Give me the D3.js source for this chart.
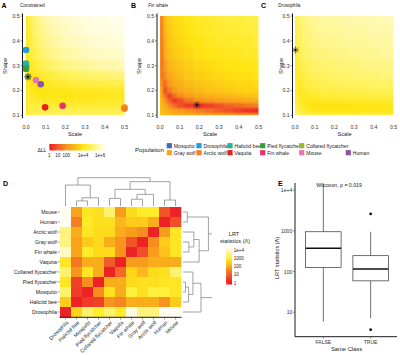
<!DOCTYPE html>
<html><head><meta charset="utf-8">
<script src="https://cdn.jsdelivr.net/npm/d3@7"></script>
<style>
body{margin:0;background:#fff;}
svg{display:block;font-family:"Liberation Sans",Arial,Helvetica,sans-serif;}
</style></head><body>
<svg id="c" width="400" height="355"></svg>
<script>
// ================= DATA =================
// Panels A-C : log10(ΔLL) on a Scale x Shape grid (rows = shapeGrid, cols = scaleGrid)
const scaleGrid = [0, 0.01, 0.025, 0.05, 0.075, 0.1, 0.15, 0.2, 0.25, 0.3, 0.35, 0.4, 0.45, 0.5];
const shapeGrid = [0.1, 0.12, 0.14, 0.16, 0.18, 0.2, 0.23, 0.26, 0.3, 0.35, 0.4, 0.45, 0.5];
const logDLLConstrained = [
 [4.2,4.6,4.8,4.9,5.0,5.0,5.1,5.1,5.1,5.1,5.1,5.1,5.1,5.1],
 [4.2,4.5,4.7,4.8,4.8,4.8,4.8,4.8,4.8,4.8,4.8,4.8,4.8,4.8],
 [4.2,4.5,4.6,4.6,4.6,4.5,4.5,4.5,4.5,4.5,4.5,4.5,4.5,4.5],
 [4.2,4.4,4.5,4.4,4.3,4.2,4.2,4.2,4.2,4.2,4.3,4.3,4.3,4.3],
 [4.2,4.4,4.4,4.2,4.0,4.0,4.0,4.0,4.1,4.1,4.1,4.1,4.2,4.2],
 [4.2,4.3,4.2,4.0,4.0,4.0,4.1,4.1,4.2,4.2,4.3,4.3,4.3,4.3],
 [4.2,4.2,4.0,4.0,4.1,4.2,4.4,4.5,4.6,4.6,4.7,4.7,4.8,4.8],
 [4.2,4.1,4.0,4.2,4.4,4.5,4.7,4.9,5.0,5.1,5.2,5.2,5.3,5.3],
 [4.2,4.0,4.2,4.5,4.8,5.0,5.2,5.4,5.5,5.6,5.7,5.8,5.8,5.9],
 [4.2,4.1,4.5,4.8,5.1,5.3,5.5,5.7,5.8,5.9,6.0,6.1,6.1,6.2],
 [4.2,4.3,4.7,5.0,5.3,5.5,5.7,5.9,6.0,6.1,6.2,6.3,6.3,6.4],
 [4.2,4.4,4.8,5.2,5.4,5.6,5.9,6.0,6.2,6.3,6.4,6.4,6.5,6.5],
 [4.2,4.4,4.9,5.3,5.6,5.8,6.0,6.2,6.3,6.4,6.5,6.5,6.6,6.6]
];
const logDLLFinWhale = [
 [3.2,3.2,3.1,3.0,2.9,2.8,2.7,2.6,2.5,2.4,2.3,2.2,2.2,2.1],
 [3.2,3.1,2.9,2.6,2.4,2.2,1.9,1.6,1.4,1.1,0.8,0.5,0.3,0.2],
 [3.2,3.0,2.6,1.9,1.3,0.8,0.4,0.2,0.5,0.8,1.1,1.3,1.5,1.6],
 [3.1,2.8,2.1,1.1,0.4,0.8,1.5,1.9,2.1,2.3,2.4,2.5,2.6,2.7],
 [3.0,2.6,1.4,0.6,1.4,1.9,2.3,2.6,2.8,2.9,3.0,3.1,3.2,3.3],
 [2.9,2.3,0.8,1.6,2.2,2.5,2.8,3.0,3.2,3.3,3.4,3.5,3.6,3.6],
 [2.8,1.7,1.3,2.2,2.6,2.8,3.1,3.3,3.4,3.5,3.6,3.7,3.7,3.8],
 [2.7,1.2,1.9,2.6,2.9,3.1,3.3,3.5,3.6,3.7,3.8,3.9,3.9,4.0],
 [2.6,1.1,2.3,2.9,3.1,3.3,3.5,3.7,3.8,3.9,4.0,4.0,4.1,4.1],
 [2.5,1.2,2.6,3.1,3.4,3.5,3.7,3.9,4.0,4.1,4.2,4.2,4.3,4.3],
 [2.4,1.3,2.8,3.3,3.5,3.7,3.9,4.0,4.2,4.3,4.3,4.4,4.4,4.5],
 [2.4,1.4,3.0,3.4,3.7,3.8,4.0,4.2,4.3,4.4,4.5,4.5,4.6,4.6],
 [2.3,1.5,3.1,3.5,3.8,3.9,4.1,4.3,4.4,4.5,4.6,4.6,4.7,4.7]
];
const logDLLDrosophila = [
 [4.6,5.0,5.0,4.9,4.8,4.8,4.8,4.8,4.8,4.8,4.8,4.8,4.8,4.8],
 [4.6,4.9,4.7,4.4,4.2,4.1,4.0,4.0,4.0,4.0,4.1,4.1,4.1,4.1],
 [4.6,4.8,4.5,4.2,4.0,3.9,3.9,3.9,3.9,4.0,4.0,4.0,4.1,4.1],
 [4.6,4.7,4.3,4.1,4.1,4.1,4.2,4.2,4.3,4.3,4.3,4.4,4.4,4.4],
 [4.6,4.6,4.2,4.2,4.3,4.4,4.5,4.5,4.6,4.6,4.6,4.7,4.7,4.7],
 [4.6,4.5,4.2,4.4,4.5,4.6,4.7,4.7,4.8,4.8,4.8,4.9,4.9,4.9],
 [4.6,4.4,4.3,4.6,4.7,4.8,4.9,4.9,5.0,5.0,5.0,5.1,5.1,5.1],
 [4.5,4.3,4.5,4.7,4.9,5.0,5.0,5.1,5.1,5.2,5.2,5.2,5.3,5.3],
 [4.5,4.4,4.7,4.9,5.0,5.1,5.2,5.2,5.3,5.3,5.4,5.4,5.4,5.4],
 [4.4,4.6,4.9,5.1,5.2,5.3,5.3,5.4,5.4,5.5,5.5,5.5,5.6,5.6],
 [4.5,4.8,5.0,5.2,5.3,5.4,5.5,5.5,5.6,5.6,5.6,5.7,5.7,5.7],
 [4.6,4.9,5.1,5.3,5.4,5.5,5.6,5.6,5.7,5.7,5.7,5.8,5.8,5.8],
 [4.6,5.0,5.2,5.4,5.5,5.6,5.7,5.7,5.8,5.8,5.8,5.9,5.9,5.9]
];
// maximum-likelihood estimates (scale, shape)
const starConstrained = [0.01, 0.255];
const starFinWhale = [0.187, 0.142];
const starDrosophila = [0.002, 0.363];
const axisTicks = [0, 0.1, 0.2, 0.3, 0.4, 0.5];
const shapeTicks = [0.1, 0.2, 0.3, 0.4, 0.5];

// Populations (panel A points)
const populations = ["Mosquito","Drosophila","Halictid bee","Pied flycatcher","Collared flycatcher","Gray wolf","Arctic wolf","Vaquita","Fin whale","Mouse","Human"];
const popColors  = ["#3d6db4","#1f9fd3","#21b3a4","#3a9d42","#9cb82c","#f8a51c","#f37f21","#e3211d","#e9336b","#e874b0","#8d55a1"];
const popScale   = [0.0, 0.0, 0.0, 0.0, 0.01, 0.5, 0.5, 0.097, 0.186, 0.05, 0.075];
const popShape   = [0.298, 0.363, 0.308, 0.287, 0.255, 0.132, 0.127, 0.132, 0.138, 0.242, 0.225];
const dllLegendTicks = [1, 10, 100, 1e4, 1e6];
const dllLegendLabels = ["1","10","100","1e+4","1e+6"];

// Panel D : pairwise LRT statistics, log10 values
const heatRows = ["Mouse","Human","Arctic wolf","Gray wolf","Fin whale","Vaquita","Collared flycatcher","Pied flycatcher","Mosquito","Halictid bee","Drosophila"];
const heatCols = ["Drosophila","Halictid bee","Mosquito","Pied flycatcher","Collared flycatcher","Vaquita","Fin whale","Gray wolf","Arctic wolf","Human","Mouse"];
const lrtLog10 = [
 [4.3,2.0,2.8,2.7,3.4,1.9,2.6,2.9,2.9,0.9,0.1],
 [4.3,1.5,2.9,2.7,2.7,2.2,2.4,2.4,2.1,0.1,0.8],
 [3.5,2.1,2.8,2.6,2.6,2.1,1.9,1.7,0.1,1.9,2.8],
 [3.5,2.0,2.4,2.6,2.1,1.8,0.9,0.1,1.7,2.4,2.8],
 [4.0,2.0,2.9,2.6,2.6,1.8,0.1,0.8,1.9,2.3,2.8],
 [2.8,1.4,2.1,2.1,1.0,0.1,1.9,1.9,2.1,2.1,2.1],
 [3.4,1.8,2.8,2.1,0.1,1.2,2.5,2.2,2.6,2.7,3.4],
 [2.8,0.6,1.7,0.1,2.1,2.1,2.6,2.7,2.7,2.8,2.8],
 [3.4,0.5,0.1,1.7,2.7,2.1,3.1,2.7,3.1,3.1,2.8],
 [2.4,0.1,0.5,0.6,1.8,1.6,2.1,2.1,2.1,1.8,2.4],
 [0.1,2.5,3.4,3.0,3.4,2.9,4.2,3.5,3.5,4.3,4.3]
];
// dendrogram merges: [child, child, height]; "#k" refers to merge k
const colMerges = [
 ["Halictid bee","Mosquito",0.18],["#0","Pied flycatcher",0.29],["Drosophila","#1",0.74],
 ["Collared flycatcher","Vaquita",0.27],["Fin whale","Gray wolf",0.24],["#4","Arctic wolf",0.41],
 ["#3","#5",0.59],["Human","Mouse",0.21],["#6","#7",0.86],["#2","#8",1.0]
];
const rowMerges = [
 ["Mouse","Human",0.14],["Gray wolf","Fin whale",0.19],["Arctic wolf","#1",0.35],
 ["#2","Vaquita",0.52],["#0","#3",0.82],["Pied flycatcher","Mosquito",0.08],
 ["#5","Halictid bee",0.18],["Collared flycatcher","#6",0.32],["#7","Drosophila",0.58],["#4","#8",1.0]
];
const lrtLegendTicks = [1, 10, 100, 1000, 1e4];
const lrtLegendLabels = ["1","10","100","1000","1e+4"];

// Panel E : boxplot of LRT statistics by "Same Class"
const boxGroups = ["FALSE","TRUE"];
const boxLow  = [5.9, 7.2];
const boxQ1   = [125, 59];
const boxMed  = [372, 115];
const boxQ3   = [950, 245];
const boxHigh = [14500, 950];
const boxOutliers = [[], [2600, 3.7]];
const eTicks = [10, 100, 1000, 1e4];
const eTickLabels = ["10","100","1000","1e+4"];

// ================= DRAWING =================
const svg = d3.select("#c");
const TXT = "#1a1a1a";
const defs = svg.append("defs");

const dllColor = d3.scaleLinear()
  .domain([0,1,2,3,4,5,6,6.7])
  .range(["#ed1c24","#f15a29","#f7941d","#fbb817","#ffe512","#fff25c","#fffac0","#fffff4"])
  .clamp(true);
const lrtColor = d3.scaleLinear()
  .domain([0,1,2,2.5,3,3.6,4.3])
  .range(["#ed1c24","#f15a29","#f9a31b","#fed51a","#fff02a","#fcf38f","#fffdf0"])
  .clamp(true);

const blur = defs.append("filter").attr("id","soft")
  .attr("x","-10%").attr("y","-10%").attr("width","120%").attr("height","120%")
  .attr("color-interpolation-filters","sRGB");
blur.append("feGaussianBlur").attr("stdDeviation",1.1);

function cellLo(arr,i,min,ext){ return i===0 ? min-ext : (arr[i-1]+arr[i])/2; }
function cellHi(arr,i,max,ext){ return i===arr.length-1 ? max+ext : (arr[i]+arr[i+1])/2; }

const yS = d3.scaleLinear().domain([0.1,0.5]).range([115.3,16]);
const panels = [
 {letter:"A", title:"Constrained", data:logDLLConstrained, star:starConstrained, x0:26, x1:124.5, axisX:22.5, shapeX:4.5, letterX:1.5, titleX:20, scaleX:75, points:true},
 {letter:"B", title:"Fin whale", data:logDLLFinWhale, star:starFinWhale, x0:160, x1:258.5, axisX:157, shapeX:139, letterX:131, titleX:148.3, scaleX:210},
 {letter:"C", title:"Drosophila", data:logDLLDrosophila, star:starDrosophila, x0:295, x1:393.5, axisX:292.5, shapeX:281, letterX:261, titleX:278.3, scaleX:344.5}
];

function starPath(r){
  const k = r*0.72;
  return `M${-r},0H${r}M0,${-r}V${r}M${-k},${-k}L${k},${k}M${-k},${k}L${k},${-k}`;
}

panels.forEach((p,k)=>{
  const xS = d3.scaleLinear().domain([0,0.5]).range([p.x0,p.x1]);
  defs.append("clipPath").attr("id","clip"+k).append("rect")
    .attr("x",p.x0).attr("y",yS(0.5)).attr("width",p.x1-p.x0).attr("height",yS(0.1)-yS(0.5));
  const cells = [];
  shapeGrid.forEach((sh,j)=>scaleGrid.forEach((sc,i)=>cells.push({i,j,v:p.data[j][i]})));
  svg.append("g").attr("clip-path",`url(#clip${k})`)
    .append("g").attr("filter","url(#soft)")
    .selectAll("rect").data(cells).join("rect")
      .attr("x",d=>xS(cellLo(scaleGrid,d.i,0,0.03))-0.3)
      .attr("width",d=>xS(cellHi(scaleGrid,d.i,0.5,0.03))-xS(cellLo(scaleGrid,d.i,0,0.03))+0.6)
      .attr("y",d=>yS(cellHi(shapeGrid,d.j,0.5,0.03))-0.3)
      .attr("height",d=>yS(cellLo(shapeGrid,d.j,0.1,0.03))-yS(cellHi(shapeGrid,d.j,0.5,0.03))+0.6)
      .attr("fill",d=>dllColor(d.v));

  // y axis
  svg.append("line").attr("x1",p.axisX).attr("x2",p.axisX).attr("y1",13.4).attr("y2",118.2)
    .attr("stroke","#000").attr("stroke-width",0.9);
  const yt = svg.append("g");
  yt.selectAll("line").data(shapeTicks).join("line")
    .attr("x1",p.axisX-2).attr("x2",p.axisX).attr("y1",d=>yS(d)).attr("y2",d=>yS(d))
    .attr("stroke","#333").attr("stroke-width",0.5);
  yt.selectAll("text").data(shapeTicks).join("text")
    .attr("x",p.axisX-2.8).attr("y",d=>yS(d)).attr("text-anchor","end").attr("dominant-baseline","central")
    .attr("font-size",5.2).attr("fill","#333").text(d=>d3.format(".1f")(d));
  // x tick labels
  svg.append("g").selectAll("text").data(axisTicks).join("text")
    .attr("x",d=>xS(d)).attr("y",127).attr("text-anchor","middle").attr("dominant-baseline","central")
    .attr("font-size",5.2).attr("fill","#333").text(d=>d3.format(".1f")(d));
  svg.append("text").attr("x",p.scaleX).attr("y",133.5).attr("text-anchor","middle").attr("dominant-baseline","central")
    .attr("font-size",5.6).attr("fill",TXT).text("Scale");
  svg.append("text").attr("transform",`translate(${p.shapeX},66) rotate(-90)`).attr("text-anchor","middle")
    .attr("dominant-baseline","central").attr("font-size",5.6).attr("fill",TXT).text("Shape");
  svg.append("text").attr("x",p.letterX).attr("y",7.5).attr("font-size",7).attr("font-weight","bold").attr("fill","#000").text(p.letter);
  svg.append("text").attr("x",p.titleX).attr("y",7).attr("font-size",4.6).attr("fill",TXT).text(p.title);

  if(p.points){
    svg.append("g").selectAll("circle").data(populations).join("circle")
      .attr("cx",(d,i)=>xS(popScale[i])).attr("cy",(d,i)=>yS(popShape[i])).attr("r",3.3)
      .attr("fill",(d,i)=>popColors[i]);
  }
  const sg = svg.append("g").attr("transform",`translate(${xS(p.star[0])},${yS(p.star[1])})`);
  sg.append("path").attr("d",starPath(3.6)).attr("stroke","#111").attr("stroke-width",0.6).attr("fill","none");
  sg.append("circle").attr("r",1).attr("fill","#111");
});

// ΔLL legend
const dllX = d3.scaleLinear().domain([0,6.7]).range([49.3,106]);
const gradA = defs.append("linearGradient").attr("id","gDLL").attr("x1","0").attr("x2","1").attr("y1","0").attr("y2","0");
d3.range(0,6.71,0.335).forEach(t=>gradA.append("stop").attr("offset",t/6.7).attr("stop-color",dllColor(t)));
svg.append("rect").attr("x",dllX(0)).attr("y",144).attr("width",dllX(6.7)-dllX(0)).attr("height",6.5).attr("fill","url(#gDLL)");
svg.append("g").selectAll("line").data(dllLegendTicks).join("line")
  .attr("x1",d=>dllX(Math.log10(d))).attr("x2",d=>dllX(Math.log10(d))).attr("y1",148.8).attr("y2",150.5)
  .attr("stroke","#fff").attr("stroke-width",0.5);
svg.append("g").selectAll("text").data(dllLegendTicks).join("text")
  .attr("x",d=>dllX(Math.log10(d))).attr("y",155.3).attr("text-anchor","middle").attr("dominant-baseline","central")
  .attr("font-size",4.5).attr("fill",TXT).text((d,i)=>dllLegendLabels[i]);
svg.append("text").attr("x",37.5).attr("y",149.5).attr("dominant-baseline","central").attr("font-size",5).attr("fill",TXT).text("ΔLL");

// Population legend
svg.append("text").attr("x",135).attr("y",149).attr("dominant-baseline","central").attr("font-size",6.1).attr("fill",TXT).text("Population");
const legColX = [169.3,199,230,262.7,301.7,348.3];
const legRowY = [145.7,152.7];
const legItems = populations.map((name,i)=>({name,i,row:i<5?0:1,col:i<5?i:i-5}));
const lg = svg.append("g").selectAll("g").data(legItems).join("g")
  .attr("transform",d=>`translate(${legColX[d.col]},${legRowY[d.row]})`);
lg.append("rect").attr("x",-2.6).attr("y",-2.6).attr("width",5.2).attr("height",5.2).attr("fill",d=>popColors[d.i]);
lg.append("text").attr("x",4.5).attr("y",0).attr("dominant-baseline","central").attr("font-size",5.1).attr("fill",TXT).text(d=>d.name);

// ===== Panel D =====
svg.append("text").attr("x",3).attr("y",186).attr("font-size",7).attr("font-weight","bold").attr("fill","#000").text("D");
const hx = d3.scaleBand().domain(heatCols).range([60,181]);
const hy = d3.scaleBand().domain(heatRows).range([207,317]);
const hcells = [];
heatRows.forEach((r,ri)=>heatCols.forEach((c,ci)=>hcells.push({r,c,v:lrtLog10[ri][ci]})));
svg.append("g").selectAll("rect").data(hcells).join("rect")
  .attr("x",d=>hx(d.c)).attr("y",d=>hy(d.r)).attr("width",hx.bandwidth()+0.3).attr("height",hy.bandwidth()+0.3)
  .attr("fill",d=>lrtColor(d.v));
svg.append("line").attr("x1",59.5).attr("x2",181.5).attr("y1",317.3).attr("y2",317.3).attr("stroke","#000").attr("stroke-width",0.9);
svg.append("g").selectAll("line").data(heatCols).join("line")
  .attr("x1",d=>hx(d)+hx.bandwidth()/2).attr("x2",d=>hx(d)+hx.bandwidth()/2).attr("y1",317.3).attr("y2",319.5)
  .attr("stroke","#333").attr("stroke-width",0.5);
svg.append("g").selectAll("line").data(heatRows).join("line")
  .attr("x1",57.6).attr("x2",59.8).attr("y1",d=>hy(d)+hy.bandwidth()/2).attr("y2",d=>hy(d)+hy.bandwidth()/2)
  .attr("stroke","#333").attr("stroke-width",0.5);
svg.append("g").selectAll("text").data(heatRows).join("text")
  .attr("x",56.8).attr("y",d=>hy(d)+hy.bandwidth()/2).attr("text-anchor","end").attr("dominant-baseline","central")
  .attr("font-size",5.2).attr("fill",TXT).text(d=>d);
svg.append("g").selectAll("text").data(heatCols).join("text")
  .attr("transform",d=>`translate(${hx(d)+hx.bandwidth()/2+1.8},${321.5}) rotate(-45)`)
  .attr("text-anchor","end").attr("dominant-baseline","central")
  .attr("font-size",5.2).attr("fill",TXT).text(d=>d);

function buildTree(merges, leafPos){
  const nodes = [];
  const get = n => typeof n==="string" && n[0]==="#" ? nodes[+n.slice(1)] : {pos:leafPos(n), h:0};
  merges.forEach(m=>{
    const a=get(m[0]), b=get(m[1]);
    nodes.push({a,b,h:m[2],pos:(a.pos+b.pos)/2});
  });
  return nodes;
}
// column dendrogram (top)
const colH = d3.scaleLinear().domain([0,1]).range([206,177.7]);
const colNodes = buildTree(colMerges, n=>hx(n)+hx.bandwidth()/2);
svg.append("g").selectAll("path").data(colNodes).join("path")
  .attr("d",d=>`M${d.a.pos},${colH(d.a.h)}V${colH(d.h)}H${d.b.pos}V${colH(d.b.h)}`)
  .attr("fill","none").attr("stroke","#666").attr("stroke-width",0.6);
// row dendrogram (right)
defs.append("clipPath").attr("id","rowclip").append("rect").attr("x",181).attr("y",200).attr("width",31).attr("height",125);
const rowH = d3.scaleLinear().domain([0,1]).range([183,214]);
const rowNodes = buildTree(rowMerges, n=>hy(n)+hy.bandwidth()/2);
svg.append("g").attr("clip-path","url(#rowclip)").selectAll("path").data(rowNodes).join("path")
  .attr("d",d=>`M${rowH(d.a.h)},${d.a.pos}H${rowH(d.h)}V${d.b.pos}H${rowH(d.b.h)}`)
  .attr("fill","none").attr("stroke","#666").attr("stroke-width",0.6);

// LRT legend
const lrtY = d3.scaleLinear().domain([0,4]).range([283.3,250]);
const gradD = defs.append("linearGradient").attr("id","gLRT").attr("x1","0").attr("x2","0").attr("y1","1").attr("y2","0");
d3.range(-0.15,4.26,0.22).forEach(t=>gradD.append("stop").attr("offset",(t+0.15)/4.4).attr("stop-color",lrtColor(t)));
svg.append("rect").attr("x",226).attr("y",lrtY(4.25)).attr("width",6).attr("height",lrtY(-0.15)-lrtY(4.25)).attr("fill","url(#gLRT)");
svg.append("g").selectAll("line").data(lrtLegendTicks).join("line")
  .attr("x1",226).attr("x2",227.3).attr("y1",d=>lrtY(Math.log10(d))).attr("y2",d=>lrtY(Math.log10(d)))
  .attr("stroke","#fff").attr("stroke-width",0.5);
svg.append("g").selectAll("text").data(lrtLegendTicks).join("text")
  .attr("x",233.8).attr("y",d=>lrtY(Math.log10(d))).attr("dominant-baseline","central")
  .attr("font-size",4.5).attr("fill",TXT).text((d,i)=>lrtLegendLabels[i]);
svg.append("text").attr("x",234).attr("y",233.5).attr("text-anchor","middle").attr("dominant-baseline","central").attr("font-size",5.5).attr("fill",TXT).text("LRT");
svg.append("text").attr("x",235).attr("y",241).attr("text-anchor","middle").attr("dominant-baseline","central").attr("font-size",5.5).attr("fill",TXT).text("statistics (Λ)");

// ===== Panel E =====
svg.append("text").attr("x",278).attr("y",186).attr("font-size",7).attr("font-weight","bold").attr("fill","#000").text("E");
const eY = d3.scaleLog().domain([2.5,15000]).range([336.7,183]);
const eX = d3.scalePoint().domain(boxGroups).range([295,399]).padding(0.6);
const bw = eX.step()*0.75;
const eg = svg.append("g");
boxGroups.forEach((g,i)=>{
  const cx = eX(g);
  eg.append("line").attr("x1",cx).attr("x2",cx).attr("y1",eY(boxQ3[i])).attr("y2",eY(boxHigh[i])).attr("stroke","#333").attr("stroke-width",0.7);
  eg.append("line").attr("x1",cx).attr("x2",cx).attr("y1",eY(boxQ1[i])).attr("y2",eY(boxLow[i])).attr("stroke","#333").attr("stroke-width",0.7);
  eg.append("rect").attr("x",cx-bw/2).attr("y",eY(boxQ3[i])).attr("width",bw).attr("height",eY(boxQ1[i])-eY(boxQ3[i]))
    .attr("fill","#fff").attr("stroke","#333").attr("stroke-width",0.7);
  eg.append("line").attr("x1",cx-bw/2).attr("x2",cx+bw/2).attr("y1",eY(boxMed[i])).attr("y2",eY(boxMed[i])).attr("stroke","#111").attr("stroke-width",1.4);
  eg.selectAll(null).data(boxOutliers[i]).join("circle").attr("cx",cx).attr("cy",d=>eY(d)).attr("r",1.4).attr("fill","#111");
});
svg.append("line").attr("x1",295).attr("x2",295).attr("y1",183).attr("y2",336.7).attr("stroke","#000").attr("stroke-width",0.9);
svg.append("line").attr("x1",295).attr("x2",397).attr("y1",336.7).attr("y2",336.7).attr("stroke","#000").attr("stroke-width",0.9);
svg.append("g").selectAll("line").data(eTicks).join("line")
  .attr("x1",293).attr("x2",295).attr("y1",d=>eY(d)).attr("y2",d=>eY(d)).attr("stroke","#333").attr("stroke-width",0.5);
svg.append("g").selectAll("text").data(eTicks).join("text")
  .attr("x",292.3).attr("y",d=>eY(d)).attr("text-anchor","end").attr("dominant-baseline","central")
  .attr("font-size",5.1).attr("fill","#333").text((d,i)=>eTickLabels[i]);
svg.append("g").selectAll("line").data(boxGroups).join("line")
  .attr("x1",d=>eX(d)).attr("x2",d=>eX(d)).attr("y1",336.7).attr("y2",338.7).attr("stroke","#333").attr("stroke-width",0.5);
svg.append("g").selectAll("text").data(boxGroups).join("text")
  .attr("x",d=>eX(d)).attr("y",342).attr("text-anchor","middle").attr("dominant-baseline","central")
  .attr("font-size",5).attr("fill","#333").text(d=>d);
svg.append("text").attr("x",346.5).attr("y",349.3).attr("text-anchor","middle").attr("dominant-baseline","central")
  .attr("font-size",5.8).attr("fill",TXT).text("Same Class");
svg.append("text").attr("transform","translate(276.5,258) rotate(-90)").attr("text-anchor","middle").attr("dominant-baseline","central")
  .attr("font-size",5.6).attr("fill",TXT).text("LRT statistics (Λ)");
svg.append("text").attr("x",339).attr("y",185.2).attr("text-anchor","middle").attr("dominant-baseline","central")
  .attr("font-size",5.2).attr("fill",TXT).text("Wilcoxon, p = 0.019");
</script>
</body></html>
